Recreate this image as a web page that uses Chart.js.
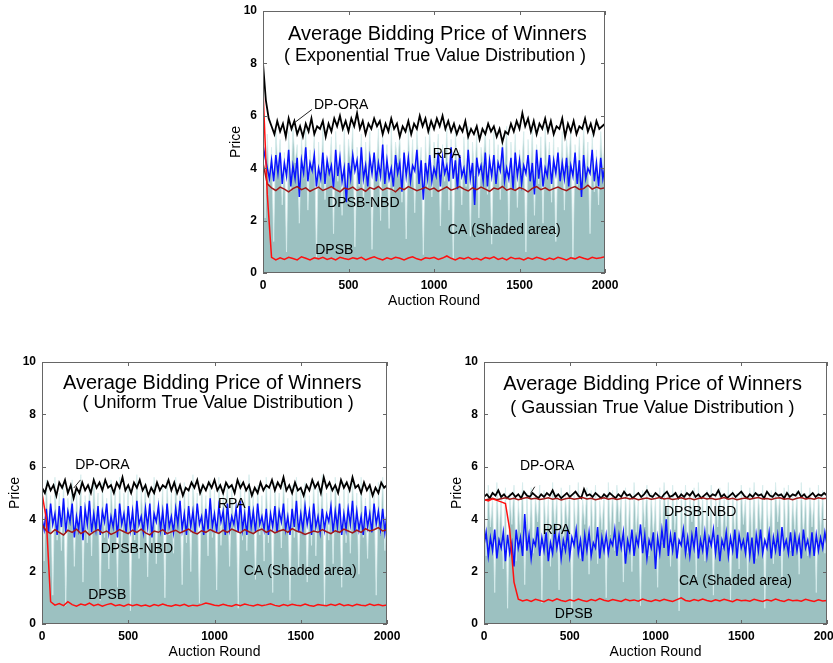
<!DOCTYPE html>
<html>
<head>
<meta charset="utf-8">
<script src="https://cdn.jsdelivr.net/npm/chart.js@4/dist/chart.umd.min.js"></script>
<style>
body{margin:0;background:#fff;width:833px;height:663px;overflow:hidden;position:relative;font-family:"Liberation Sans",Arial,sans-serif}
.box{position:absolute}
</style>
</head>
<body>
<div class="box" style="left:223px;top:3px;width:402px;height:310px"><canvas id="c1"></canvas></div>
<div class="box" style="left:2px;top:354px;width:405px;height:310px"><canvas id="c2"></canvas></div>
<div class="box" style="left:444px;top:354px;width:389px;height:310px"><canvas id="c3"></canvas></div>
<script>
// axis ticks
const roundTicks = [0, 500, 1000, 1500, 2000]
const priceTicks = [0, 2, 4, 6, 8, 10]

// ---- Exponential true value distribution ----
const ca1 = [5.0,2.1,5.3,3.4,4.8,1.2,5.5,3.9,5.1,2.6,4.6,0.8,5.4,3.1,5.6,4.2,4.9,1.9,5.2,3.6,
5.5,2.4,4.7,3.8,5.3,0.6,5.0,3.2,5.6,2.8,4.4,4.0,5.2,1.5,5.4,3.5,4.9,2.2,5.5,3.0,
5.1,4.1,5.6,1.0,4.8,3.3,5.3,2.5,5.0,3.7,5.4,0.9,4.6,3.9,5.5,2.0,5.2,3.4,4.9,1.7,
5.6,3.1,5.0,4.2,5.3,2.7,4.7,1.3,5.5,3.6,5.1,2.3,5.4,3.9,4.8,0.7,5.2,3.2,5.6,2.9,
5.0,4.0,5.3,1.8,4.9,3.5,5.5,2.4,5.1,0.5,5.4,3.8,4.7,2.6,5.2,3.3,5.6,1.4,5.0,3.7,
5.3,2.1,4.8,4.1,5.5,3.0,5.1,1.1,5.4,3.5,4.9,2.8,5.2,3.9,5.6,1.6,5.0,3.2,5.3,2.5,
4.7,4.0,5.4,0.8,5.1,3.6,5.5,2.2,4.9,3.4,5.2,1.9,5.6,3.8,5.0,2.7,5.3,1.2,4.8,3.5,
5.4,2.4,5.1,4.1,5.5,0.6,4.9,3.3,5.2,2.9,5.6,3.7,5.0,1.5,5.3,3.1,4.7,2.6,5.4,3.9,5.2]
const dpora1 = [8.0,6.6,5.9,5.6,5.3,5.8,5.4,5.7,5.2,5.9,5.5,5.8,5.3,5.6,5.2,5.7,5.4,5.9,5.3,5.6,
5.5,5.8,5.2,5.7,5.4,5.9,5.6,6.0,5.5,5.8,5.4,5.9,5.6,6.1,5.5,5.8,5.3,5.7,5.5,5.9,
5.6,5.8,5.3,5.7,5.4,5.9,5.5,5.7,5.2,5.6,5.4,5.8,5.3,5.7,5.5,6.0,5.6,5.9,5.4,5.8,
5.5,5.9,5.6,6.0,5.5,5.8,5.4,5.7,5.3,5.6,5.4,5.8,5.2,5.5,5.3,5.6,5.1,5.5,5.3,5.7,
5.4,5.6,5.2,5.5,5.0,5.4,5.3,5.7,5.4,5.8,5.5,6.1,5.6,5.9,5.4,5.8,5.3,5.7,5.5,5.9,
5.4,5.8,5.3,5.6,5.5,5.9,5.2,5.7,5.4,5.8,5.3,5.6,5.5,5.9,5.4,5.7,5.3,5.8,5.5,5.6,5.7]
const rpa1 = [4.9,4.4,4.0,3.6,4.3,3.5,4.5,3.8,4.6,3.4,4.2,3.7,4.7,3.3,4.1,3.6,4.4,2.9,4.3,3.8,
4.8,3.5,4.2,3.9,4.5,3.3,4.0,3.6,4.6,3.4,4.3,3.8,4.1,3.2,4.7,3.7,4.4,3.5,4.0,2.7,
4.2,3.6,4.5,3.9,4.3,3.4,4.8,3.6,4.1,3.3,4.4,3.8,4.6,3.5,4.2,3.7,4.9,3.4,4.3,3.6,
4.0,3.3,4.5,3.8,4.2,3.1,4.6,3.7,4.4,3.5,4.1,3.9,4.7,3.4,4.3,2.8,4.2,3.6,4.5,3.5,
4.0,3.7,4.6,3.3,4.4,3.8,4.1,3.5,4.8,3.6,4.3,3.2,4.5,3.7,4.0,3.4,4.7,3.6,4.2,2.6,
4.4,3.8,4.1,3.5,4.6,3.3,4.3,3.7,4.5,3.4,4.2,3.9,4.8,3.5,4.0,3.6,4.4,3.2,4.6,3.7,
4.3,3.4,4.1,3.8,4.5,3.5,4.2,3.0,4.7,3.6,4.4,3.3,4.0,3.7,4.5,3.4,4.3,3.8,4.6,3.5,
4.2,3.6,4.4,3.3,4.1,3.7,4.6,3.4,4.3,2.9,4.5,3.6,4.0,3.8,4.7,3.5,4.2,3.3,4.4,3.6,4.1]
const nbd1 = [4.2,3.4,3.25,3.15,3.28,3.2,3.1,3.22,3.3,3.18,3.25,3.12,3.2,3.28,3.15,3.22,3.3,3.18,3.1,3.24,
3.2,3.28,3.15,3.22,3.12,3.26,3.2,3.3,3.16,3.24,3.2,3.1,3.25,3.18,3.3,3.22,3.14,3.2,3.27,3.18,
3.24,3.12,3.2,3.29,3.16,3.22,3.3,3.2,3.13,3.25,3.18,3.28,3.2,3.12,3.24,3.2,3.3,3.16,3.22,3.15,
3.26,3.2,3.1,3.23,3.3,3.18,3.25,3.15,3.22,3.28,3.2,3.14,3.24,3.3,3.19,3.22,3.35,3.2,3.28,3.22,3.25]
const dpsb1 = [7.0,3.0,0.6,0.5,0.58,0.52,0.6,0.55,0.5,0.62,0.56,0.5,0.58,0.54,0.6,0.52,0.57,0.5,0.6,0.55,
0.52,0.58,0.54,0.6,0.5,0.56,0.62,0.55,0.5,0.58,0.53,0.6,0.56,0.5,0.57,0.62,0.54,0.5,0.58,0.55,
0.6,0.52,0.57,0.65,0.56,0.5,0.58,0.54,0.6,0.52,0.56,0.5,0.59,0.55,0.62,0.52,0.57,0.5,0.6,0.54,
0.56,0.5,0.58,0.53,0.6,0.55,0.5,0.57,0.52,0.6,0.55,0.5,0.58,0.54,0.62,0.56,0.52,0.6,0.55,0.58,0.62]

// ---- Uniform true value distribution ----
const ca2 = [5.2,2.4,5.5,3.6,4.9,1.1,5.6,3.2,5.0,2.8,5.4,0.7,4.8,3.9,5.5,2.2,5.1,3.5,5.7,1.6,
4.9,3.1,5.3,2.6,5.6,3.8,5.0,0.9,5.4,3.3,4.8,2.1,5.5,3.7,5.2,1.4,5.6,2.9,5.0,3.5,
5.3,0.5,4.9,3.2,5.7,2.5,5.1,3.9,5.4,1.8,5.0,3.0,5.6,2.3,4.8,3.6,5.3,1.0,5.5,3.4,
5.1,2.7,5.6,3.8,4.9,1.5,5.4,3.1,5.2,2.0,5.7,3.5,5.0,0.8,5.3,3.7,4.9,2.6,5.5,3.3,
5.1,1.3,5.6,3.0,5.0,3.9,5.4,2.2,5.2,3.6,4.8,0.6,5.5,3.2,5.1,2.8,5.7,3.8,5.0,1.7,
5.3,3.4,4.9,2.4,5.6,3.1,5.2,1.2,5.4,3.7,5.0,2.9,5.5,3.5,4.8,0.9,5.3,3.3,5.6,2.1,
5.1,3.8,5.4,1.6,4.9,3.0,5.5,2.6,5.2,3.6,5.7,0.7,5.0,3.2,5.3,2.3,5.6,3.9,4.9,1.4,
5.4,3.1,5.1,2.7,5.5,3.5,5.0,1.9,5.6,3.3,4.8,2.5,5.3,3.7,5.1,1.1,5.4,3.4,5.6,2.8,5.2]
const dpora2 = [5.2,5.0,5.4,5.1,5.3,4.9,5.4,5.2,5.5,5.0,5.3,4.8,5.2,5.0,5.4,5.1,5.3,5.0,5.5,5.2,
5.4,5.1,5.5,5.2,5.3,5.0,5.4,5.2,5.6,5.1,5.3,5.0,5.4,5.2,5.5,5.1,5.3,4.9,5.2,5.0,
5.4,5.1,5.3,5.2,5.5,5.1,5.4,5.0,5.3,4.9,5.2,5.1,5.4,5.2,5.5,5.0,5.3,5.1,5.4,5.2,
5.5,5.1,5.3,5.0,5.4,5.2,5.3,5.0,5.5,5.2,5.4,5.1,5.3,4.9,5.2,5.0,5.4,5.1,5.3,5.2,
5.5,5.1,5.4,5.2,5.6,5.1,5.3,5.0,5.4,5.1,5.2,4.9,5.3,5.1,5.5,5.2,5.4,5.0,5.6,5.2,
5.4,5.1,5.3,5.0,5.5,5.2,5.4,5.1,5.6,5.2,5.3,5.0,5.4,5.1,5.3,4.9,5.2,5.0,5.4,5.2,5.3]
const rpa2 = [4.0,3.6,4.4,3.5,4.6,3.8,4.2,3.4,4.5,3.7,4.8,3.5,4.3,3.9,4.6,3.3,4.1,3.6,4.5,3.2,
4.4,3.8,4.7,3.5,4.2,3.6,4.5,3.4,4.3,3.9,4.6,3.5,4.1,3.7,4.4,3.3,4.6,3.8,4.2,3.5,
4.5,3.6,4.3,3.4,4.7,3.8,4.1,3.5,4.4,3.7,4.6,3.3,4.2,3.9,4.5,3.6,4.3,3.4,4.6,3.7,
4.1,3.5,4.4,3.8,4.7,3.6,4.2,3.4,4.5,3.7,4.3,3.5,4.6,3.8,4.1,3.4,4.4,3.6,4.8,3.7,
4.2,3.5,4.5,3.9,4.3,3.4,4.6,3.6,4.1,3.8,4.4,3.5,4.7,3.6,4.2,3.4,4.5,3.7,4.3,3.5,
4.6,3.8,4.1,3.6,4.4,3.4,4.2,3.7,4.5,3.5,4.3,3.9,4.6,3.6,4.1,3.4,4.4,3.7,4.7,3.5,
4.2,3.6,4.5,3.8,4.3,3.4,4.6,3.7,4.1,3.5,4.4,3.6,4.2,3.9,4.5,3.5,4.3,3.7,4.6,3.4,
4.2,3.6,4.4,3.8,4.7,3.5,4.3,3.6,4.1,3.4,4.5,3.7,4.2,3.5,4.6,3.8,4.3,3.6,4.4,3.5,4.2]
const nbd2 = [3.8,3.55,3.45,3.6,3.5,3.4,3.58,3.5,3.62,3.45,3.55,3.4,3.52,3.6,3.48,3.55,3.42,3.5,3.6,3.52,
3.45,3.58,3.5,3.62,3.48,3.4,3.55,3.5,3.6,3.45,3.52,3.58,3.48,3.55,3.62,3.5,3.44,3.56,3.5,3.6,
3.52,3.46,3.58,3.5,3.62,3.55,3.48,3.6,3.52,3.45,3.56,3.62,3.5,3.58,3.48,3.55,3.6,3.5,3.64,3.55,
3.5,3.42,3.48,3.55,3.5,3.6,3.52,3.45,3.56,3.5,3.62,3.55,3.48,3.58,3.5,3.64,3.55,3.6,3.68,3.55,3.6]
const dpsb2 = [5.0,4.0,0.85,0.72,0.78,0.7,0.85,0.74,0.68,0.76,0.72,0.8,0.7,0.75,0.68,0.74,0.78,0.7,0.73,0.68,
0.75,0.7,0.74,0.69,0.72,0.67,0.74,0.7,0.76,0.71,0.68,0.73,0.7,0.75,0.68,0.72,0.7,0.74,0.8,0.76,
0.72,0.7,0.75,0.71,0.68,0.74,0.7,0.76,0.72,0.69,0.74,0.7,0.73,0.77,0.71,0.68,0.74,0.7,0.75,0.72,
0.7,0.76,0.71,0.68,0.74,0.72,0.7,0.75,0.71,0.77,0.7,0.73,0.69,0.75,0.72,0.7,0.76,0.71,0.74,0.7,0.73]

// ---- Gaussian true value distribution ----
const ca3 = [5.1,2.6,5.3,3.7,4.8,1.2,5.4,3.3,4.9,2.1,5.2,0.6,5.0,3.8,5.3,2.4,4.7,3.5,5.4,1.5,
5.0,3.0,5.2,2.7,4.9,3.9,5.3,0.8,5.1,3.4,4.8,2.2,5.4,3.6,5.0,1.3,5.2,2.9,4.9,3.7,
5.3,0.5,5.0,3.2,5.4,2.5,4.8,3.8,5.2,1.9,5.1,3.1,5.3,2.3,4.7,3.6,5.0,1.0,5.4,3.4,
5.1,2.8,5.3,3.9,4.9,1.6,5.2,3.0,5.0,2.0,5.4,3.5,4.8,0.7,5.1,3.7,5.3,2.6,5.0,3.3,
4.9,1.4,5.2,3.1,5.4,3.8,5.0,2.2,5.3,3.6,4.8,0.5,5.1,3.2,5.3,2.7,5.0,3.9,5.2,1.8,
5.4,3.4,4.9,2.4,5.1,3.0,5.3,1.1,5.0,3.7,5.2,2.9,4.8,3.5,5.4,0.9,5.1,3.3,5.0,2.1,
5.3,3.8,4.9,1.7,5.2,3.1,5.4,2.5,5.0,3.6,5.3,0.6,4.8,3.2,5.1,2.3,5.4,3.9,5.0,1.5,
5.2,3.0,5.3,2.8,4.9,3.5,5.1,1.9,5.4,3.3,5.0,2.6,5.2,3.7,4.8,1.2,5.3,3.4,5.1,2.7,5.0]
const dpora3 = [4.85,4.95,4.8,5.0,4.9,5.1,4.85,4.95,4.8,4.9,5.0,4.85,4.95,4.8,5.05,4.9,4.85,5.0,4.9,4.8,
4.95,4.85,5.0,4.9,5.1,4.85,4.95,4.8,4.9,5.0,4.85,4.95,5.05,4.9,4.8,5.15,4.9,4.95,4.85,5.0,
4.9,4.8,4.95,4.85,5.0,4.9,4.8,4.95,4.85,5.05,4.9,4.95,4.8,4.9,5.0,4.85,4.95,5.1,4.9,4.85,
5.0,4.9,4.8,4.95,5.05,4.85,4.9,5.0,4.8,4.95,4.85,5.0,4.9,5.05,4.85,4.95,4.8,4.9,5.0,4.85,
4.95,4.9,5.1,4.85,4.95,4.8,4.9,5.0,4.85,4.95,5.05,4.9,4.8,4.95,4.85,5.0,4.9,4.95,4.8,5.05,
4.9,4.85,5.0,4.9,4.95,4.8,5.0,4.85,4.95,4.9,5.05,4.85,4.95,4.8,4.9,5.0,4.85,4.95,4.9,5.0,4.9]
const rpa3 = [3.0,3.5,2.6,3.3,2.8,3.6,2.5,3.2,2.9,3.5,2.4,3.4,2.7,3.1,2.2,3.6,2.9,3.3,2.6,4.2,
2.8,3.4,2.5,3.2,3.0,3.7,2.6,3.3,2.8,3.5,2.4,3.1,2.7,3.6,2.9,3.4,2.5,3.2,2.8,3.5,
2.6,3.3,3.0,3.6,2.7,3.2,2.4,3.4,2.8,3.5,2.6,3.1,2.9,3.7,2.5,3.3,2.8,3.4,2.7,3.2,
3.0,3.6,2.6,3.4,2.9,3.5,2.3,3.2,2.8,3.6,2.6,3.3,3.0,3.8,2.7,3.4,2.5,3.2,2.9,3.5,
2.1,3.3,2.7,3.6,2.9,4.0,2.6,3.4,2.8,3.5,2.5,3.2,3.0,3.6,2.7,3.3,2.6,3.4,2.9,3.7,
2.5,3.2,2.8,3.5,2.6,3.3,3.0,3.6,2.7,3.4,2.4,3.2,2.9,3.5,2.6,3.3,2.8,3.6,2.5,3.4,
2.9,3.2,2.7,3.5,2.6,3.3,2.3,3.4,2.8,3.6,2.7,3.2,2.9,3.5,2.5,3.3,2.8,3.4,2.6,3.7,
2.9,3.2,2.7,3.5,2.6,3.4,2.8,3.3,2.5,3.6,2.9,3.2,2.7,3.5,2.6,3.4,2.8,3.3,2.9,3.5,3.0]
const nbd3 = [4.72,4.76,4.8,4.74,4.78,4.82,4.76,4.8,4.74,4.79,4.83,4.77,4.8,4.75,4.78,4.82,4.76,4.8,4.73,4.78,
4.81,4.76,4.79,4.83,4.77,4.8,4.74,4.78,4.82,4.76,4.8,4.75,4.79,4.82,4.77,4.8,4.74,4.78,4.81,4.76,
4.79,4.83,4.77,4.8,4.75,4.78,4.82,4.76,4.8,4.74,4.79,4.82,4.77,4.8,4.75,4.78,4.83,4.76,4.8,4.74,
4.78,4.81,4.76,4.8,4.83,4.77,4.79,4.75,4.8,4.82,4.76,4.79,4.74,4.8,4.83,4.77,4.8,4.76,4.82,4.78,4.8]
const dpsb3 = [4.75,4.7,4.78,4.72,4.66,4.6,3.6,1.6,0.95,0.88,0.92,0.86,0.94,0.9,0.85,0.93,0.88,0.96,0.9,0.86,
0.92,0.88,0.95,0.9,0.86,0.93,0.89,0.97,0.91,0.87,0.93,0.9,0.86,0.94,0.89,0.92,0.87,0.95,0.9,0.86,
0.92,0.88,0.94,0.9,0.86,0.93,1.0,0.9,0.87,0.93,0.89,0.95,0.9,0.86,0.92,0.88,0.94,0.9,0.85,0.93,
0.89,0.91,0.87,0.94,0.9,0.86,0.92,0.88,0.95,0.9,0.86,0.93,0.89,0.91,0.87,0.94,0.9,0.86,0.92,0.88,0.9]

const FONT = '"Liberation Sans", Arial, sans-serif'

// samples are evenly spread over the 2000 auction rounds
function toXY(arr){
    const step = 2000 / (arr.length - 1)
    return arr.map((v, i) => ({x: i * step, y: v}))
}

const decor = {
    id: 'decor',
    afterDatasetsDraw(chart, args, opts){
        const ctx = chart.ctx
        const a = chart.chartArea
        const sx = chart.scales.x, sy = chart.scales.y
        ctx.save()
        // box + small inward ticks like matlab
        ctx.strokeStyle = '#666'
        ctx.lineWidth = 1
        ctx.strokeRect(a.left + 0.5, a.top + 0.5, a.right - a.left - 1, a.bottom - a.top - 1)
        ctx.beginPath()
        roundTicks.forEach(v => {
            const px = Math.round(sx.getPixelForValue(v)) + 0.5
            ctx.moveTo(px, a.bottom); ctx.lineTo(px, a.bottom - 4)
            ctx.moveTo(px, a.top); ctx.lineTo(px, a.top + 4)
        })
        priceTicks.forEach(v => {
            const py = Math.round(sy.getPixelForValue(v)) + 0.5
            ctx.moveTo(a.left, py); ctx.lineTo(a.left + 4, py)
            ctx.moveTo(a.right, py); ctx.lineTo(a.right - 4, py)
        })
        ctx.stroke()

        // leader line for DP-ORA
        const l = opts.leader
        ctx.strokeStyle = '#222'
        ctx.beginPath()
        ctx.moveTo(sx.getPixelForValue(l[0]), sy.getPixelForValue(l[1]))
        ctx.lineTo(sx.getPixelForValue(l[2]), sy.getPixelForValue(l[3]))
        ctx.stroke()

        ctx.fillStyle = '#000'
        ctx.textAlign = 'center'
        ctx.textBaseline = 'middle'
        opts.notes.forEach(n => {
            ctx.font = n[3] + 'px ' + FONT
            ctx.fillText(n[0], sx.getPixelForValue(n[1]), sy.getPixelForValue(n[2]))
        })
        ctx.restore()
    }
}

function makeChart(id, ca, dpora, rpa, nbd, dpsb, notes, leader, padRight){
    new Chart(document.getElementById(id), {
        type: 'scatter',
        data: {
            datasets: [
                {label: 'DPSB', data: toXY(dpsb), showLine: true, borderColor: '#ff1010', borderWidth: 1.5, pointRadius: 0},
                {label: 'DPSB-NBD', data: toXY(nbd), showLine: true, borderColor: '#a01818', borderWidth: 1.5, pointRadius: 0},
                {label: 'DP-ORA', data: toXY(dpora), showLine: true, borderColor: '#000000', borderWidth: 1.8, pointRadius: 0},
                {label: 'RPA', data: toXY(rpa), showLine: true, borderColor: '#0a14ff', borderWidth: 1.5, pointRadius: 0},
                {label: 'CA', data: toXY(ca), showLine: true, borderColor: '#d6ecec', borderWidth: 0.8,
                 backgroundColor: '#9cc1c1', fill: 'origin', pointRadius: 0}
            ]
        },
        options: {
            responsive: true,
            maintainAspectRatio: false,
            animation: false,
            devicePixelRatio: 1,
            layout: {padding: {top: 8, right: padRight, left: 0, bottom: 0}},
            plugins: {
                legend: {display: false},
                tooltip: {enabled: false},
                decor: {notes: notes, leader: leader}
            },
            scales: {
                x: {
                    type: 'linear', min: 0, max: 2000,
                    afterBuildTicks: s => { s.ticks = roundTicks.map(v => ({value: v})) },
                    afterFit: s => { s.height = 40; s.paddingLeft = 0; s.paddingRight = 0 },
                    grid: {display: false, drawTicks: false},
                    border: {display: false},
                    ticks: {color: '#000', padding: 5, maxRotation: 0, callback: v => String(v),
                            font: {family: FONT, size: 12, weight: 'bold'}},
                    title: {display: true, text: 'Auction Round', color: '#000', padding: {top: 0, bottom: 3},
                            font: {family: FONT, size: 14}}
                },
                y: {
                    min: 0, max: 10,
                    afterBuildTicks: s => { s.ticks = priceTicks.map(v => ({value: v})) },
                    afterFit: s => { s.width = 40; s.paddingTop = 0; s.paddingBottom = 0 },
                    grid: {display: false, drawTicks: false},
                    border: {display: false},
                    ticks: {color: '#000', padding: 6, callback: v => String(v),
                            font: {family: FONT, size: 12, weight: 'bold'}},
                    title: {display: true, text: 'Price', color: '#000', padding: {top: 5, bottom: 0},
                            font: {family: FONT, size: 14}}
                }
            }
        },
        plugins: [decor]
    })
}

makeChart('c1', ca1, dpora1, rpa1, nbd1, dpsb1, [
    ['Average Bidding Price of Winners', 1020, 9.1, 20],
    ['( Exponential True Value Distribution )', 1006, 8.3, 18],
    ['DP-ORA', 457, 6.4, 14],
    ['RPA', 1074, 4.52, 14],
    ['DPSB-NBD', 587, 2.67, 14],
    ['CA (Shaded area)', 1411, 1.63, 14],
    ['DPSB', 417, 0.89, 14]
], [286, 6.24, 183, 5.73], 20)

makeChart('c2', ca2, dpora2, rpa2, nbd2, dpsb2, [
    ['Average Bidding Price of Winners', 987, 9.18, 20],
    ['( Uniform True Value Distribution )', 1021, 8.42, 18],
    ['DP-ORA', 350, 6.05, 14],
    ['RPA', 1100, 4.56, 14],
    ['DPSB-NBD', 550, 2.87, 14],
    ['CA (Shaded area)', 1497, 2.0, 14],
    ['DPSB', 378, 1.1, 14]
], [223, 5.5, 184, 5.19], 20)

makeChart('c3', ca3, dpora3, rpa3, nbd3, dpsb3, [
    ['Average Bidding Price of Winners', 983, 9.13, 20],
    ['( Gaussian True Value Distribution )', 982, 8.24, 18],
    ['DP-ORA', 368, 6.03, 14],
    ['DPSB-NBD', 1260, 4.28, 14],
    ['RPA', 423, 3.6, 14],
    ['CA (Shaded area)', 1466, 1.63, 14],
    ['DPSB', 524, 0.36, 14]
], [296, 5.24, 271, 4.98], 6)
</script>
</body>
</html>
